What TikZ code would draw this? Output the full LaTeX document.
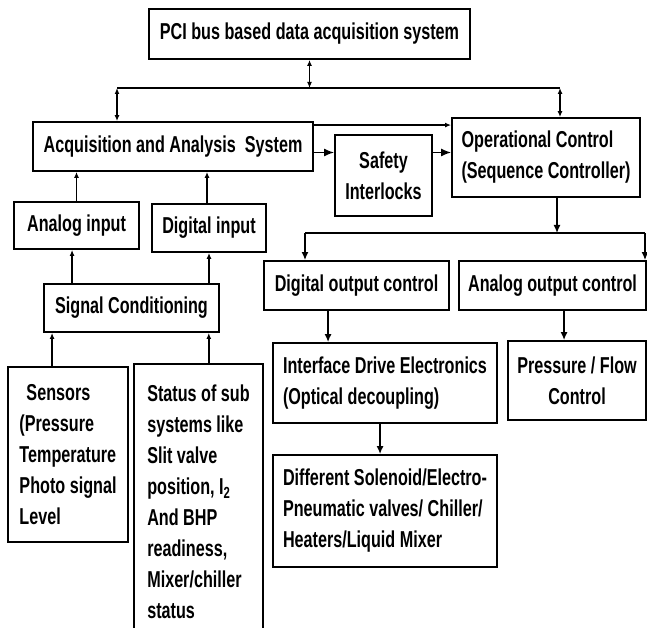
\documentclass[tikz,border=0pt]{standalone}
\usepackage{fontspec}
\setmainfont{Liberation Sans}[FakeStretch=0.703]
\usetikzlibrary{arrows.meta,calc}
\begin{document}
\begin{tikzpicture}[x=1pt,y=-1pt,
  txt/.style={inner sep=0pt, font=\fontsize{23}{31}\selectfont\bfseries},
  box/.style={txt, draw, line width=1.9pt},
  ln/.style={line width=1.4pt},
  sarr/.style={ln, -{Latex[length=6pt,width=5pt]}},
  marr/.style={ln, -{Latex[length=8pt,width=7pt]}},
  larr/.style={ln, -{Latex[length=10pt,width=8pt]}},
  both/.style={ln, {Latex[length=6pt,width=5pt]}-{Latex[length=6pt,width=5pt]}}
]
\useasboundingbox[fill=white] (0,0) rectangle (647,628);

% boxes
\node[box, minimum width=321, minimum height=50] (pci) at (309.5,34) {PCI bus based data acquisition system};
\node[box, minimum width=280, minimum height=49] (acq) at (173,146.5) {Acquisition and Analysis\ \ System};
\node[box, minimum width=97, minimum height=81, align=center] (sf) at (383.5,175.5) {Safety\\Interlocks};
\node[box, minimum width=188, minimum height=79, align=left] (op) at (546,157.5) {Operational Control\\(Sequence Controller)};
\node[box, minimum width=125, minimum height=47] (ain) at (76.5,225.5) {Analog input};
\node[box, minimum width=114, minimum height=48] (din) at (209,228) {Digital input};
\node[box, minimum width=175, minimum height=48] (sc) at (131.5,308) {Signal Conditioning};
\node[box, minimum width=120, minimum height=175, align=left] (sen) at (68,454.5) {\hspace{7pt}Sensors\\(Pressure\\Temperature\\Photo signal\\Level};
\node[txt, minimum width=129, minimum height=264] (status) at (198.5,496) {};
\draw[line width=1.9pt] (status.south west) -- (status.north west) -- (status.north east) -- (status.south east);
\node[txt, align=left, yshift=-6pt] (stattxt) at (status.center) {Status of sub\\systems like\\Slit valve\\position, I\textsubscript{2}\\And BHP\\readiness,\\Mixer/chiller\\status};
\node[box, minimum width=185, minimum height=49] (dout) at (356.5,285.5) {Digital output control};
\node[box, minimum width=187, minimum height=49] (aout) at (552.5,285.5) {Analog output control};
\node[box, minimum width=224, minimum height=80, align=left] (iface) at (385,383) {Interface Drive Electronics\\(Optical decoupling)};
\node[box, minimum width=224, minimum height=112, align=left] (diff) at (385,511) {Different Solenoid/Electro-\\Pneumatic valves/ Chiller/\\Heaters/Liquid Mixer};
\node[box, minimum width=138, minimum height=79, align=center] (pres) at (577,380.5) {Pressure / Flow\\Control};

% top bus
\coordinate (busL) at (117,88);
\coordinate (busR) at (560,88);
\draw[ln] (busL) -- (busR);
\draw[both] (pci.south) -- (pci.south |- busL);
\draw[both] (busL) -- (busL |- acq.north);
\draw[both] (busR) -- (busR |- op.north);

% acquisition to control
\draw[sarr] ([yshift=-4pt]acq.north east) -- ([yshift=-4pt]acq.north east -| op.west);
\draw[larr] ([yshift=-6pt]acq.east) -- ([yshift=-6pt]acq.east -| sf.west);
\draw[larr] ([yshift=-6pt]acq.east -| sf.east) -- ([yshift=-6pt]acq.east -| op.west);

% inputs
\draw[sarr] (ain.north) -- (ain.north |- acq.south);
\draw[sarr] ([xshift=-2pt]din.north) -- ([xshift=-2pt]din.north |- acq.south);
\draw[sarr] ([xshift=29pt]sc.north west) -- ([xshift=29pt]sc.north west |- ain.south);
\draw[sarr] (din.south |- sc.north) -- (din.south);
\draw[sarr] ([xshift=45pt]sen.north west) -- ([xshift=45pt]sen.north west |- sc.south);
\draw[sarr] ([xshift=75pt]status.north west) -- ([xshift=75pt]status.north west |- sc.south);

% output bus
\coordinate (obL) at (305,233);
\coordinate (obR) at (645,233);
\coordinate (obM) at (557,233);
\draw[marr] (op.south -| obM) -- (obM);
\draw[ln] (obL) -- (obR);
\draw[marr] (obL) -- (obL |- dout.north);
\draw[marr] (obR) -- (obR |- aout.north);

% outputs
\draw[marr] ([xshift=65pt]dout.south west) -- ([xshift=65pt]dout.south west |- iface.north);
\draw[marr] ([xshift=106pt]aout.south west) -- ([xshift=106pt]aout.south west |- pres.north);
\draw[marr] ([xshift=108pt]iface.south west) -- ([xshift=108pt]iface.south west |- diff.north);
\end{tikzpicture}
\end{document}
